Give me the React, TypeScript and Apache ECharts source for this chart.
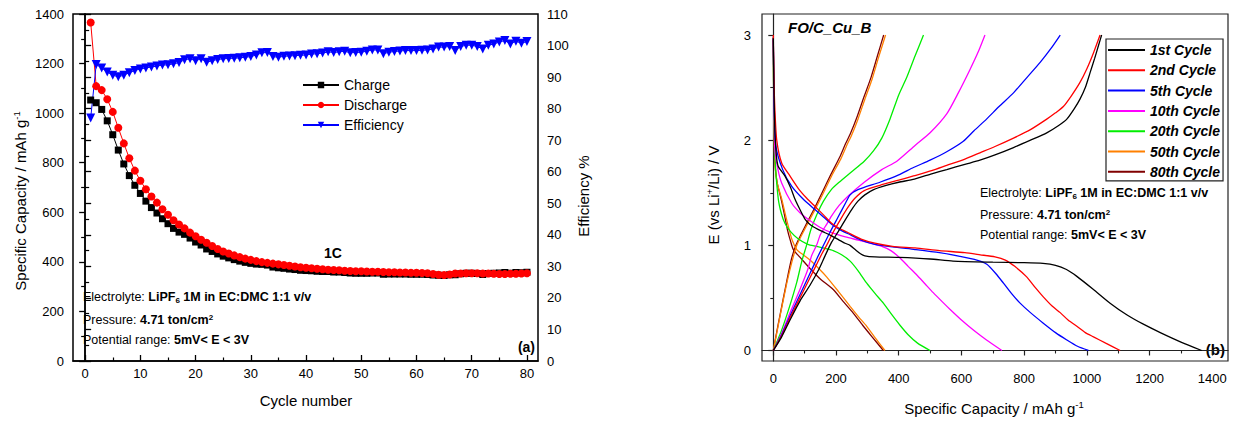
import React, { useEffect, useRef } from "react";
import * as echarts from "echarts";

const FONT = "'Liberation Sans', Arial, Helvetica, sans-serif";

// ---------- Panel (a): cycling data ----------
const cycleNumbers: number[] = Array.from({ length: 80 }, (_, i) => i + 1);

const chargeCapacity: number[] = [
  1053, 1042, 1015, 969, 913, 851, 795, 748, 709, 676,
  645, 619, 597, 574, 554, 535, 520, 511, 496, 480,
  468, 452, 442, 432, 423, 416, 409, 403, 398, 394,
  391, 390, 387, 379, 376, 374, 371, 369, 366, 365,
  364, 362, 361, 361, 359, 359, 357, 355, 354, 354,
  354, 355, 355, 350, 351, 351, 351, 351, 350, 350,
  350, 349, 347, 346, 345, 348, 348, 352, 354, 354,
  353, 349, 353, 354, 355, 357, 354, 357, 356, 358,
];

const dischargeCapacity: number[] = [
  1366, 1109, 1093, 1056, 1005, 941, 878, 818, 768, 727,
  693, 664, 639, 612, 590, 568, 551, 535, 518, 503,
  489, 477, 464, 452, 442, 434, 426, 419, 413, 408,
  403, 399, 396, 393, 390, 387, 384, 381, 378, 376,
  374, 372, 370, 368, 367, 366, 364, 363, 362, 362,
  361, 360, 360, 359, 358, 358, 357, 357, 356, 356,
  355, 354, 351, 348, 347, 349, 353, 353, 354, 354,
  354, 353, 353, 352, 351, 351, 352, 352, 353, 354,
];

const efficiencyPct: number[] = [
  77.0, 94.0, 92.9, 91.6, 90.6, 90.1, 90.6, 91.4, 92.1, 92.6,
  92.9, 93.2, 93.5, 93.8, 93.9, 94.2, 94.6, 95.5, 95.8, 95.2,
  95.8, 94.7, 95.2, 95.6, 95.8, 95.9, 96.0, 96.1, 96.3, 96.5,
  97.0, 97.7, 97.8, 96.5, 96.3, 96.6, 96.7, 96.8, 96.9, 97.0,
  97.3, 97.4, 97.6, 98.0, 97.8, 98.0, 98.2, 97.7, 97.8, 97.9,
  98.2, 98.6, 98.6, 97.4, 97.9, 98.1, 98.3, 98.4, 98.4, 98.4,
  98.5, 98.6, 98.9, 99.5, 99.5, 99.7, 98.4, 99.7, 100.1, 100.1,
  99.7, 98.9, 100.1, 100.5, 101.1, 101.6, 100.5, 101.4, 100.7, 101.3,
];

const cycleAxisTicks = [0, 10, 20, 30, 40, 50, 60, 70, 80];
const cycleAxisMinor = [5, 15, 25, 35, 45, 55, 65, 75];

// ---------- Panel (b): voltage profiles [capacity, voltage] ----------
const cycleNames = ["1st Cycle", "2nd Cycle", "5th Cycle", "10th Cycle", "20th Cycle", "50th Cycle", "80th Cycle"];

const discharge1st: number[][] = [
  [0, 2.97], [2, 2.5], [5, 2.1], [10, 1.85], [16, 1.75], [37, 1.66], [55, 1.55], [69, 1.44], [85, 1.34],
  [101, 1.25], [120, 1.19], [144, 1.15], [165, 1.12], [186, 1.09], [210, 1.05], [229, 1.02], [245, 1.0],
  [261, 0.96], [278, 0.92], [292, 0.9], [324, 0.89], [400, 0.885], [500, 0.87], [573, 0.85], [700, 0.84],
  [800, 0.835], [860, 0.828], [900, 0.81], [935, 0.77], [968, 0.705], [1021, 0.58], [1074, 0.45], [1127, 0.34],
  [1180, 0.25], [1234, 0.17], [1300, 0.08], [1366, 0.0],
];
const charge1st: number[][] = [
  [0, 0], [25, 0.12], [55, 0.3], [85, 0.47], [117, 0.62], [145, 0.77], [165, 0.9], [186, 1.03], [207, 1.13],
  [229, 1.24], [250, 1.34], [270, 1.42], [292, 1.48], [320, 1.53], [360, 1.57], [400, 1.6], [450, 1.63],
  [505, 1.68], [553, 1.72], [611, 1.77], [659, 1.81], [707, 1.86], [766, 1.93], [820, 2.0], [872, 2.07],
  [910, 2.14], [936, 2.2], [960, 2.3], [978, 2.39], [995, 2.5], [1010, 2.64], [1025, 2.78], [1037, 2.9], [1047, 3.0],
];
const discharge2nd: number[][] = [
  [0, 3.0], [2, 2.6], [5, 2.3], [11, 2.0], [27, 1.78], [53, 1.66], [80, 1.54], [106, 1.45], [133, 1.37],
  [160, 1.29], [186, 1.21], [212, 1.16], [239, 1.12], [280, 1.06], [324, 1.02], [380, 0.99], [452, 0.975],
  [530, 0.95], [611, 0.93], [660, 0.91], [707, 0.89], [740, 0.86], [770, 0.8], [808, 0.7], [835, 0.6],
  [861, 0.51], [890, 0.42], [915, 0.36], [940, 0.29], [968, 0.23], [995, 0.17], [1021, 0.13], [1060, 0.07], [1106, 0.0],
];
const charge2nd: number[][] = [
  [0, 0], [25, 0.13], [55, 0.32], [85, 0.5], [115, 0.68], [140, 0.83], [155, 0.92], [170, 1.0], [190, 1.12],
  [215, 1.25], [240, 1.37], [261, 1.45], [290, 1.52], [340, 1.57], [400, 1.62], [447, 1.66], [505, 1.71],
  [553, 1.76], [611, 1.82], [659, 1.88], [707, 1.94], [766, 2.02], [820, 2.1], [872, 2.2], [900, 2.26],
  [925, 2.32], [950, 2.42], [978, 2.55], [1000, 2.68], [1021, 2.83], [1042, 3.0],
];
const discharge5th: number[][] = [
  [0, 2.97], [2, 2.5], [8, 1.95], [30, 1.72], [59, 1.56], [95, 1.44], [133, 1.34], [160, 1.27], [186, 1.2],
  [212, 1.15], [239, 1.11], [280, 1.05], [324, 1.01], [380, 0.985], [452, 0.96], [530, 0.93], [595, 0.895],
  [649, 0.86], [681, 0.82], [710, 0.73], [734, 0.64], [760, 0.54], [787, 0.45], [820, 0.36], [861, 0.26],
  [900, 0.17], [936, 0.1], [970, 0.04], [1005, 0.0],
];
const charge5th: number[][] = [
  [0, 0], [25, 0.14], [55, 0.34], [85, 0.53], [115, 0.72], [140, 0.88], [160, 1.0], [180, 1.12], [205, 1.26],
  [230, 1.4], [245, 1.48], [270, 1.53], [340, 1.6], [400, 1.67], [447, 1.74], [500, 1.81], [553, 1.89],
  [606, 1.99], [640, 2.09], [680, 2.2], [720, 2.32], [766, 2.45], [810, 2.6], [851, 2.74], [885, 2.87], [915, 3.0],
];
const discharge10th: number[][] = [
  [0, 2.95], [2, 2.4], [5, 1.91], [15, 1.72], [27, 1.59], [59, 1.4], [85, 1.31], [112, 1.245], [150, 1.17],
  [186, 1.12], [230, 1.08], [271, 1.05], [310, 1.02], [346, 0.99], [375, 0.95], [404, 0.88], [430, 0.8],
  [457, 0.72], [485, 0.63], [510, 0.55], [540, 0.46], [564, 0.39], [600, 0.29], [640, 0.19], [680, 0.1], [729, 0.0],
];
const charge10th: number[][] = [
  [0, 0], [25, 0.15], [55, 0.37], [85, 0.58], [110, 0.77], [122, 0.9], [138, 1.0], [150, 1.1], [170, 1.2],
  [186, 1.28], [210, 1.38], [239, 1.47], [290, 1.6], [346, 1.72], [394, 1.8], [452, 1.95], [500, 2.07],
  [553, 2.25], [590, 2.45], [627, 2.67], [655, 2.85], [675, 3.0],
];
const discharge20th: number[][] = [
  [0, 2.95], [2, 2.2], [6, 1.8], [16, 1.44], [26, 1.3], [37, 1.21], [55, 1.13], [80, 1.06], [110, 1.01],
  [138, 0.99], [165, 0.97], [191, 0.95], [218, 0.91], [245, 0.85], [270, 0.76], [298, 0.64], [325, 0.54],
  [351, 0.45], [378, 0.34], [404, 0.24], [430, 0.15], [460, 0.07], [500, 0.0],
];
const charge20th: number[][] = [
  [0, 0], [25, 0.18], [50, 0.4], [75, 0.65], [91, 0.85], [106, 1.0], [120, 1.15], [140, 1.3], [160, 1.42],
  [185, 1.53], [210, 1.6], [250, 1.7], [290, 1.8], [320, 1.9], [346, 2.02], [372, 2.2], [400, 2.43],
  [426, 2.6], [452, 2.8], [479, 3.0],
];
const discharge50th: number[][] = [
  [0, 2.95], [2, 2.2], [5, 1.8], [12, 1.6], [27, 1.44], [38, 1.3], [48, 1.18], [60, 1.05], [75, 0.96],
  [95, 0.91], [117, 0.86], [145, 0.78], [170, 0.7], [208, 0.56], [245, 0.42], [272, 0.32], [298, 0.23],
  [325, 0.12], [356, 0.0],
];
const charge50th: number[][] = [
  [0, 0], [10, 0.15], [21, 0.32], [43, 0.64], [60, 0.85], [75, 1.0], [91, 1.1], [112, 1.22], [133, 1.34],
  [160, 1.5], [186, 1.66], [215, 1.82], [234, 1.95], [250, 2.05], [270, 2.2], [292, 2.39], [315, 2.58],
  [335, 2.78], [358, 3.0],
];
const discharge80th: number[][] = [
  [0, 2.98], [2, 2.2], [5, 1.8], [12, 1.6], [25, 1.44], [35, 1.3], [45, 1.15], [55, 1.04], [64, 0.96],
  [90, 0.87], [117, 0.78], [150, 0.68], [191, 0.58], [222, 0.47], [255, 0.356], [285, 0.24], [315, 0.13], [351, 0.0],
];
const charge80th: number[][] = [
  [0, 0], [10, 0.16], [21, 0.33], [43, 0.66], [58, 0.87], [72, 1.0], [88, 1.1], [110, 1.23], [131, 1.35],
  [157, 1.51], [183, 1.67], [212, 1.84], [231, 1.97], [247, 2.07], [267, 2.22], [289, 2.41], [312, 2.6],
  [332, 2.8], [352, 3.0],
];

const profileDischarges = [discharge1st, discharge2nd, discharge5th, discharge10th, discharge20th, discharge50th, discharge80th];
const profileCharges = [charge1st, charge2nd, charge5th, charge10th, charge20th, charge50th, charge80th];

const capAxisTicks = [0, 200, 400, 600, 800, 1000, 1200, 1400];
const capAxisMinor = [100, 300, 500, 700, 900, 1100, 1300];
const voltAxisTicks = [0, 1, 2, 3];
const voltAxisMinor = [0.5, 1.5, 2.5];

// styles
const cycleColors = ["#000000", "#ff0000", "#0000ff", "#ff00ff", "#00ee00", "#ff8000", "#800000"];

export default function App() {
  const ref = useRef<HTMLDivElement>(null);

  useEffect(() => {
    if (!ref.current) return;
    const chart = echarts.init(ref.current, undefined, { renderer: "svg" });

    const plain = (v: number) => String(v);
    const lbl = { color: "#000", fontFamily: FONT, fontSize: 13, formatter: plain };
    const axisLineA = { show: true, lineStyle: { color: "#000", width: 1.5 } };
    const axisLineB = { show: true, lineStyle: { color: "#222", width: 1.2 } };

    const profileSeries: any[] = [];
    cycleNames.forEach((name, i) => {
      [profileDischarges[i], profileCharges[i]].forEach((d) => {
        profileSeries.push({
          type: "line",
          name,
          xAxisIndex: 2,
          yAxisIndex: 2,
          data: d,
          showSymbol: false,
          symbol: "none",
          smooth: 0.22,
          lineStyle: { color: cycleColors[i], width: 1.3 },
          itemStyle: { color: cycleColors[i] },
          z: 10 - i,
        });
      });
    });

    const small = { fontFamily: FONT, fontSize: 12.5, fill: "#000" };
    const richNote = {
      b: { fontFamily: FONT, fontSize: 12.5, fontWeight: "bold", color: "#000" },
      sub: { fontFamily: FONT, fontSize: 8, fontWeight: "bold", color: "#000", verticalAlign: "bottom", padding: [6, 0, 0, 0] },
      sup: { fontFamily: FONT, fontSize: 8, fontWeight: "bold", color: "#000", verticalAlign: "top", padding: [0, 0, 6, 0] },
    };

    const notes = (x: number, y1: number, y2: number, y3: number) => [
      {
        type: "text", x, y: y1,
        style: { ...small, text: "Electrolyte: {b|LiPF}{sub|6}{b| 1M in EC:DMC 1:1 v/v}", rich: richNote, verticalAlign: "middle", align: "left" },
      },
      {
        type: "text", x, y: y2,
        style: { ...small, text: "Pressure: {b|4.71 ton/cm}{sup|2}", rich: richNote, verticalAlign: "middle", align: "left" },
      },
      {
        type: "text", x, y: y3,
        style: { ...small, text: "Potential range: {b|5mV< E < 3V}", rich: richNote, verticalAlign: "middle", align: "left" },
      },
    ];

    const richTitle = {
      sup: { fontFamily: FONT, fontSize: 9.5, color: "#000", verticalAlign: "top", padding: [0, 0, 7, 0] },
    };
    const title = { fontFamily: FONT, fontSize: 15, fill: "#000" };

    chart.setOption({
      animation: false,
      grid: [
        { left: 73, top: 14, width: 465, height: 347, show: true, borderColor: "#000", borderWidth: 1.5, containLabel: false },
        { left: 762, top: 14, width: 466, height: 347, show: true, borderColor: "#222", borderWidth: 1.2, containLabel: false },
      ],
      xAxis: [
        {
          type: "value", gridIndex: 0, min: -2.2, max: 82, position: "bottom",
          axisLine: axisLineA,
          axisTick: { show: true, inside: true, length: 6, customValues: cycleAxisTicks, lineStyle: { color: "#000", width: 1.3 } },
          axisLabel: { ...lbl, margin: 6, customValues: cycleAxisTicks },
          splitLine: { show: false },
        },
        {
          type: "value", gridIndex: 0, min: -2.2, max: 82, position: "bottom",
          axisLine: { show: false },
          axisTick: { show: true, inside: true, length: 3.5, customValues: cycleAxisMinor, lineStyle: { color: "#000", width: 1.2 } },
          axisLabel: { show: false },
          splitLine: { show: false },
        },
        {
          type: "value", gridIndex: 1, min: -36, max: 1450, position: "bottom",
          axisLine: axisLineB,
          axisTick: { show: true, inside: false, length: 5, customValues: capAxisTicks, lineStyle: { color: "#222", width: 1.2 } },
          axisLabel: { ...lbl, margin: 11, customValues: capAxisTicks },
          splitLine: { show: false },
        },
        {
          type: "value", gridIndex: 1, min: -36, max: 1450, position: "bottom",
          axisLine: { show: false },
          axisTick: { show: true, inside: false, length: 3, customValues: capAxisMinor, lineStyle: { color: "#222", width: 1.1 } },
          axisLabel: { show: false },
          splitLine: { show: false },
        },
      ],
      yAxis: [
        {
          type: "value", gridIndex: 0, min: 0, max: 1400, interval: 200, position: "left",
          axisLine: axisLineA,
          axisTick: { show: true, inside: false, length: 6, lineStyle: { color: "#000", width: 1.3 } },
          minorTick: { show: true, splitNumber: 2, length: 4, lineStyle: { color: "#000", width: 1.2 } },
          axisLabel: { ...lbl, margin: 9 },
          splitLine: { show: false },
        },
        {
          type: "value", gridIndex: 0, min: 0, max: 110, interval: 10, position: "right",
          axisLine: axisLineA,
          axisTick: { show: true, inside: false, length: 6, lineStyle: { color: "#000", width: 1.3 } },
          minorTick: { show: true, splitNumber: 2, length: 4, lineStyle: { color: "#000", width: 1.2 } },
          axisLabel: { ...lbl, margin: 9 },
          splitLine: { show: false },
        },
        {
          type: "value", gridIndex: 1, min: -0.1, max: 3.2, position: "left",
          axisLine: axisLineB,
          axisTick: { show: true, inside: false, length: 5, customValues: voltAxisTicks, lineStyle: { color: "#222", width: 1.2 } },
          axisLabel: { ...lbl, margin: 11, customValues: voltAxisTicks },
          splitLine: { show: false },
        },
        {
          type: "value", gridIndex: 1, min: -0.1, max: 3.2, position: "left",
          axisLine: { show: false },
          axisTick: { show: true, inside: false, length: 3, customValues: voltAxisMinor, lineStyle: { color: "#222", width: 1.1 } },
          axisLabel: { show: false },
          splitLine: { show: false },
        },
      ],
      legend: [
        {
          data: ["Charge", "Discharge", "Efficiency"],
          orient: "vertical",
          left: 302,
          top: 78,
          itemWidth: 36,
          itemHeight: 8,
          itemGap: 6,
          padding: 0,
          textStyle: { fontFamily: FONT, fontSize: 14, color: "#000" },
          selectedMode: false,
        },
        {
          data: cycleNames,
          orient: "vertical",
          left: 1106,
          top: 39,
          icon: "rect",
          itemWidth: 37,
          itemHeight: 2,
          itemGap: 6.3,
          padding: [4, 3, 2, 2],
          borderColor: "#222",
          borderWidth: 1.2,
          borderRadius: 0,
          textStyle: { fontFamily: FONT, fontSize: 14, fontWeight: "bold", fontStyle: "italic", color: "#000" },
          selectedMode: false,
        },
      ],
      series: [
        {
          type: "line", name: "Charge", xAxisIndex: 0, yAxisIndex: 0,
          data: cycleNumbers.map((c, i) => [c, chargeCapacity[i]]),
          symbol: "rect", symbolSize: 7,
          lineStyle: { color: "#000", width: 1 },
          itemStyle: { color: "#000" },
        },
        {
          type: "line", name: "Discharge", xAxisIndex: 0, yAxisIndex: 0,
          data: cycleNumbers.map((c, i) => [c, dischargeCapacity[i]]),
          symbol: "circle", symbolSize: 8,
          lineStyle: { color: "#ff0000", width: 1 },
          itemStyle: { color: "#ff0000" },
        },
        {
          type: "line", name: "Efficiency", xAxisIndex: 0, yAxisIndex: 1,
          data: cycleNumbers.map((c, i) => [c, efficiencyPct[i]]),
          symbol: "triangle", symbolRotate: 180, symbolSize: 9,
          lineStyle: { color: "#0000ff", width: 1 },
          itemStyle: { color: "#0000ff" },
        },
        ...profileSeries,
      ],
      graphic: [
        {
          type: "text", x: 20, y: 201, rotation: Math.PI / 2,
          style: { ...title, text: "Specific Capacity / mAh g{sup|-1}", rich: richTitle, align: "center", verticalAlign: "middle" },
        },
        {
          type: "text", x: 583, y: 196, rotation: Math.PI / 2,
          style: { ...title, text: "Efficiency %", align: "center", verticalAlign: "middle" },
        },
        {
          type: "text", x: 306, y: 400,
          style: { ...title, text: "Cycle number", align: "center", verticalAlign: "middle" },
        },
        {
          type: "text", x: 713, y: 195, rotation: Math.PI / 2,
          style: { ...title, text: "E (vs Li{sup|+}/Li) / V", rich: richTitle, align: "center", verticalAlign: "middle" },
        },
        {
          type: "text", x: 994, y: 408,
          style: { ...title, text: "Specific Capacity / mAh g{sup|-1}", rich: richTitle, align: "center", verticalAlign: "middle" },
        },
        {
          type: "text", x: 333, y: 253,
          style: { fontFamily: FONT, fontSize: 14, fontWeight: "bold", fill: "#000", text: "1C", align: "center", verticalAlign: "middle" },
        },
        {
          type: "text", x: 535, y: 347,
          style: { fontFamily: FONT, fontSize: 14, fontWeight: "bold", fill: "#000", text: "(a)", align: "right", verticalAlign: "middle" },
        },
        {
          type: "text", x: 1225, y: 349,
          style: { fontFamily: FONT, fontSize: 15, fontWeight: "bold", fill: "#000", text: "(b)", align: "right", verticalAlign: "middle" },
        },
        {
          type: "text", x: 788, y: 27,
          style: { fontFamily: FONT, fontSize: 15, fontWeight: "bold", fontStyle: "italic", fill: "#000", text: "FO/C_Cu_B", align: "left", verticalAlign: "middle" },
        },
        ...notes(83, 297, 320, 340),
        ...notes(980, 193, 215, 235),
      ],
    });

    return () => chart.dispose();
  }, []);

  return (
    <div
      ref={ref}
      style={{ position: "absolute", left: 0, top: 0, width: 1238, height: 421, background: "#fff" }}
    />
  );
}
